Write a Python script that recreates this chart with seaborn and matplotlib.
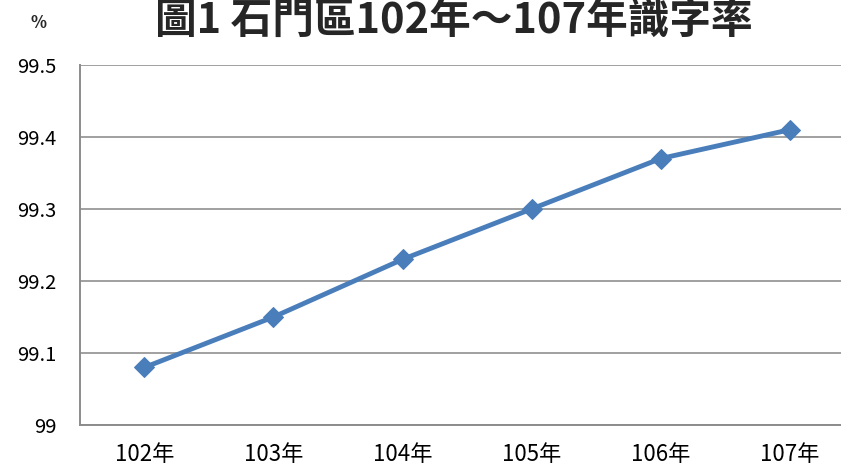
import matplotlib
matplotlib.use('Agg')
import matplotlib.pyplot as plt
import seaborn as sns
import pandas as pd

# data
years = ['102年', '103年', '104年', '105年', '106年', '107年']
rates = [99.08, 99.15, 99.23, 99.30, 99.37, 99.41]
yticks = [99, 99.1, 99.2, 99.3, 99.4, 99.5]
ytick_labels = ['99', '99.1', '99.2', '99.3', '99.4', '99.5']

sns.set_style('white')
plt.rcParams['font.family'] = ['Noto Sans CJK TC', 'DejaVu Sans']

df = pd.DataFrame({'year': years, 'rate': rates})

fig = plt.figure(figsize=(8.41, 4.71), dpi=100)
ax = fig.add_axes([0.0951, 0.0977, 0.9204, 0.7643])

sns.lineplot(data=df, x='year', y='rate', ax=ax, color='#4A7EBB', linewidth=3.5,
             marker='D', markersize=10, markeredgecolor='#4A7EBB', sort=False)

ax.set_xlim(-0.5, 5.5)
ax.set_ylim(99, 99.5)
ax.set_yticks(yticks)
ax.set_yticklabels(ytick_labels)
ax.yaxis.grid(True, color='#A0A0A0', linewidth=1.4)
ax.set_axisbelow(True)
ax.set_xlabel('')
ax.set_ylabel('')
ax.tick_params(axis='both', length=0, colors='black')
ax.tick_params(axis='y', pad=17, labelsize=14.5)
ax.tick_params(axis='x', pad=13, labelsize=16)

for side in ['top', 'right']:
    ax.spines[side].set_visible(False)
for side in ['left', 'bottom']:
    ax.spines[side].set_color('#8C8C8C')
    ax.spines[side].set_linewidth(1.4)

fig.text(0.54, 0.999, '圖1 石門區102年～107年識字率', ha='center', va='top',
         fontsize=30, fontweight='bold')
fig.text(0.046, 1 - 32 / 471, '%', ha='center', va='bottom', fontsize=12, fontweight='bold')

fig.savefig('out.png', dpi=100)
